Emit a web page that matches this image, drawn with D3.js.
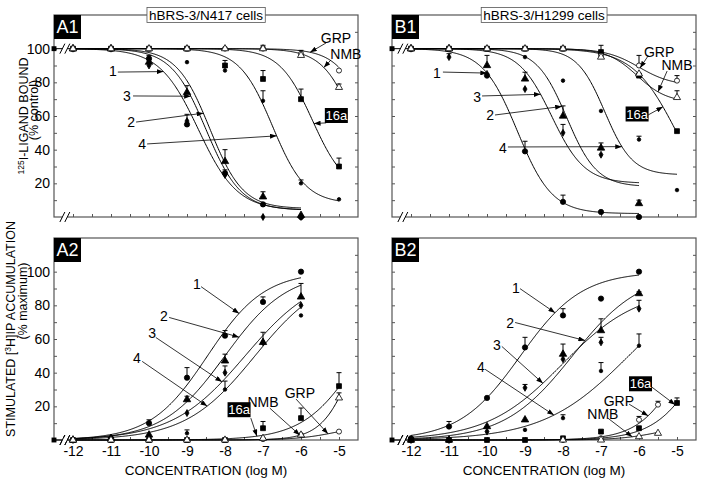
<!DOCTYPE html>
<html>
<head>
<meta charset="utf-8">
<style>
  body{
    margin: 0;
    background: #fff;
  }
  svg text{
    font-family: 'Liberation Sans Narrow', 'Arial Narrow', 'Liberation Sans', Arial, sans-serif;
  }
</style>
</head>
<body>
<svg id="svgVis"></svg>
<script src="https://cdn.jsdelivr.net/npm/d3@7"></script>
<script>

var width = 701, height = 480;

// concentrations (log M) of the measured points
var conc = [-12, -11, -10, -9, -8, -7, -6, -5.5, -5];
var xTicks = [-12, -11, -10, -9, -8, -7, -6, -5];
var yTicks = [0, 20, 40, 60, 80, 100];
var compounds = ['1', '2', '3', '4', '16a', 'GRP', 'NMB'];

// fitted curves: [left plateau, right plateau, logEC50, slope, last log conc]
var a1Fits = [
  [100, 4, -8.7, 0.85, -6],
  [100, 5, -8.4, 1.0, -6],
  [100, 4, -8.5, 0.95, -6],
  [100, 8, -6.75, 1.0, -5],
  [100, 15, -5.7, 1.0, -5],
  [100, 0, -4.1, 1.0, -5],
  [100, 0, -4.5, 1.0, -5]
];
var b1Fits = [
  [100, 2, -9.2, 0.95, -6],
  [100, 18, -7.9, 1.1, -6],
  [100, 20, -8.3, 1.0, -6],
  [100, 25, -6.9, 1.2, -5],
  [100, 0, -5.0, 0.75, -5],
  [100, 78, -6.0, 1.0, -5],
  [100, 68, -6.05, 1.1, -5]
];
var a2Fits = [
  [0, 100, -8.46, 0.58, -6],
  [0, 100, -8.0, 0.53, -6],
  [0, 100, -7.47, 0.455, -6],
  [0, 100, -7.21, 0.475, -6],
  [0, 100, -4.44, 0.6, -5],
  [0, 10, -5.0, 0.8, -5],
  [0, 100, -4.54, 1.03, -5]
];
var b2Fits = [
  [0, 100, -9.12, 0.54, -6],
  [0, 100, -7.75, 0.484, -6],
  [0, 90, -8.02, 0.437, -6],
  [0, 100, -6.27, 0.386, -6],
  [0, 100, -4.22, 0.694, -5],
  [0, 100, -4.74, 0.76, -5.5],
  [0, 10, -5.4, 0.8, -5.5]
];

// measured means (one row per compound, columns follow conc)
var a1Values = [
  [100, 100, 94, 55, 26, 7.5, 0, null, null],
  [100, 100, 92, 74, 33, 12, 1, null, null],
  [100, 100, 90, 57, 25, 0, 0, null, null],
  [100, 100, 100, 92, 87, 69, 20, null, 10.5],
  [100, 100, 100, 100, 90, 82, 70, null, 30],
  [100, 100, 100, 100, 100, 100, 97, null, 87],
  [100, 100, 100, 100, 100, 100, 96, null, 77]
];
var a1Errors = [
  [0, 0, 2, 6, 0, 0, 0, 0, 0],
  [0, 0, 3, 4, 7, 3, 0, 0, 0],
  [0, 0, 0, 0, 3, 0, 0, 0, 0],
  [0, 0, 0, 0, 2, 6, 2, 0, 0],
  [0, 0, 0, 0, 3, 5, 6, 0, 5],
  [0, 0, 0, 0, 0, 2, 2, 0, 0],
  [0, 0, 0, 0, 0, 1, 0, 0, 2]
];
var b1Values = [
  [100, 100, 84, 39, 9, 3, 0, null, null],
  [100, 100, 90, 82, 60, 41, 8, null, null],
  [100, 95, 85, 76, 50, 37, null, null, null],
  [100, 100, 100, 95, 81, 63, 46, null, 16],
  [100, 100, 100, 100, 100, 98, 84, null, 51],
  [100, 100, 100, 100, 100, 96, 90, null, 81],
  [100, 100, 100, 100, 100, 95, 85, null, 71]
];
var b1Errors = [
  [0, 0, 0, 6, 4, 0, 0, 0, 0],
  [0, 0, 6, 4, 6, 3, 2, 0, 0],
  [0, 2, 0, 0, 5, 0, 0, 0, 0],
  [0, 0, 0, 0, 0, 0, 2, 0, 0],
  [0, 0, 0, 0, 0, 4, 0, 0, 0],
  [0, 0, 0, 0, 0, 0, 6, 0, 3],
  [0, 0, 0, 0, 0, 0, 0, 0, 4]
];
var a2Values = [
  [0, 1, 10, 37, 62, 82, 100, null, null],
  [0, 1, 3, 24, 47, 58, 85, null, null],
  [0, 1, 2, 16, 40, 58, 80, null, null],
  [0, 0, 1, 4, 30, 58, 74, null, null],
  [0, 0, 0, 0, 0, 7, 13, null, 32],
  [0, 0, 0, 0, 0, 0.5, 3, null, 5],
  [0, 0, 0, 0, 0, 1, 3, null, 25]
];
var a2Errors = [
  [0, 0, 2, 6, 3, 3, 0, 0, 0],
  [0, 0, 0, 2, 4, 6, 8, 0, 0],
  [0, 0, 0, 0, 4, 0, 0, 0, 0],
  [0, 0, 0, 2, 5, 0, 0, 0, 0],
  [0, 0, 0, 0, 0, 4, 6, 0, 8],
  [0, 0, 0, 0, 0, 0, 0, 0, 0],
  [0, 0, 0, 0, 0, 0, 0, 0, 3]
];
var b2Values = [
  [1, 8, 25, 55, 74, 84, 100, null, null],
  [0, 0, 8, 12, 51, 65, 87, null, null],
  [0, 0, 5, 31, 48, 58, 78, null, null],
  [0, 0, 0, 6, 13, 41, 56, null, null],
  [0, 0, 0, 0, 1, 5, 7, null, 22],
  [null, null, null, null, 0, 1, 12, 21, null],
  [null, null, null, null, 0, 0, 2, 4, null]
];
var b2Errors = [
  [0, 3, 0, 6, 4, 0, 0, 0, 0],
  [0, 0, 0, 0, 6, 7, 1, 0, 0],
  [0, 0, 0, 2, 0, 3, 5, 0, 0],
  [0, 0, 0, 0, 2, 5, 7, 0, 0],
  [0, 0, 0, 0, 0, 0, 0, 0, 3],
  [0, 0, 0, 0, 0, 0, 2, 2, 0],
  [0, 0, 0, 0, 0, 0, 0, 0, 0]
];

// labels: [text, text logx, text value, arrow start logx, arrow start value, compound, arrow tip logx]
var a1Notes = [
  ['1', -10.95, 86.7, -10.82, 86.1, 0, -9.62],
  ['3', -10.58, 71.9, -10.42, 71.9, 2, -8.9],
  ['2', -10.47, 56.4, -10.34, 56.4, 1, -8.57],
  ['4', -10.18, 43.4, -10.05, 43.4, 3, -6.64],
  ['16a', -5.07, 60.3, -5.34, 55.9, 4, -5.66],
  ['GRP', -5.08, 106.4, -5.34, 103.4, 5, -5.76],
  ['NMB', -4.82, 96.9, -5.21, 93.3, 6, -5.4]
];
var b1Notes = [
  ['1', -11.32, 85.6, -11.16, 86.1, 0, -10.0],
  ['3', -10.26, 71.3, -10.13, 71.9, 2, -8.59],
  ['2', -9.92, 60.6, -9.79, 60.6, 1, -8.03],
  ['4', -9.58, 41, -9.45, 41.6, 3, -6.45],
  ['16a', -6.05, 61.2, -5.76, 60.6, 4, -5.37],
  ['GRP', -5.47, 98, -5.76, 95.7, 5, -5.97],
  ['NMB', -5.0, 90.3, -5.26, 86.7, 6, -5.5]
];
var a2Notes = [
  ['1', -8.74, 92.9, -8.63, 91.1, 0, -7.63],
  ['2', -9.61, 73.4, -9.47, 72.8, 1, -7.63],
  ['3', -9.92, 63.3, -9.82, 60.9, 2, -8.08],
  ['4', -10.32, 48.5, -10.18, 46.7, 3, -8.47],
  ['16a', -7.63, 18, -7.32, 13, 4, -7.16],
  ['NMB', -7.0, 22.5, -6.82, 18.9, 6, -6.03],
  ['GRP', -6.03, 27.8, -6.13, 24.3, 5, -5.29]
];
var b2Notes = [
  ['1', -9.24, 90.5, -9.13, 89.9, 0, -8.21],
  ['2', -9.39, 69.8, -9.26, 69.8, 1, -7.42],
  ['3', -9.74, 56.2, -9.61, 55.6, 2, -8.53],
  ['4', -10.16, 43.2, -10.05, 42, 3, -8.24],
  ['16a', -5.96, 33.4, -5.66, 31.4, 4, -5.05],
  ['GRP', -6.53, 23.1, -6.26, 21.3, 5, -5.76],
  ['NMB', -6.95, 15.4, -6.82, 13, 6, -6.18]
];

var symbols = [
  {type: d3.symbolCircle, size: 22, fill: '#000'},
  {type: d3.symbolTriangle, size: 24, fill: '#000'},
  {type: d3.symbolDiamond, size: 14, fill: '#000'},
  {type: d3.symbolCircle, size: 10, fill: '#000'},
  {type: d3.symbolSquare, size: 24, fill: '#000'},
  {type: d3.symbolCircle, size: 20, fill: '#fff'},
  {type: d3.symbolTriangle, size: 22, fill: '#fff'}
];

var pw = 304, ph = 202;

var panels = [
  {name: 'A1', left: 54, top: 15, fits: a1Fits, values: a1Values, errors: a1Errors, notes: a1Notes,
   ctrl: 100, title: 'hBRS-3/N417 cells', yLabels: true, xLabels: false},
  {name: 'B1', left: 392, top: 15, fits: b1Fits, values: b1Values, errors: b1Errors, notes: b1Notes,
   ctrl: 100, title: 'hBRS-3/H1299 cells', yLabels: false, xLabels: false},
  {name: 'A2', left: 54, top: 238, fits: a2Fits, values: a2Values, errors: a2Errors, notes: a2Notes,
   ctrl: 0, title: null, yLabels: true, xLabels: true},
  {name: 'B2', left: 392, top: 238, fits: b2Fits, values: b2Values, errors: b2Errors, notes: b2Notes,
   ctrl: 0, title: null, yLabels: false, xLabels: true}
];

var svg = d3.select('#svgVis')
  .attr('width', width)
  .attr('height', height);

svg.append('defs').append('marker')
  .attr('id', 'arrow')
  .attr('markerUnits', 'userSpaceOnUse')
  .attr('viewBox', '0 -3 8 6')
  .attr('refX', 8)
  .attr('refY', 0)
  .attr('markerWidth', 7)
  .attr('markerHeight', 5)
  .attr('orient', 'auto')
  .append('path')
  .attr('d', 'M0,-3L8,0L0,3Z')
  .attr('fill', '#000');

function curveY(f, x) {
  return f[0] + (f[1] - f[0]) / (1 + Math.pow(10, (f[2] - x) * f[3]));
}

var x = d3.scaleLinear().domain([-12.5, -4.5]).range([0, pw]);
var y = d3.scaleLinear().domain([0, 120]).range([ph, 0]);

function drawBreak(g, yy) {
  var b1 = x(-12.28), b2 = x(-12.15);
  g.append('rect')
    .attr('x', b1).attr('y', yy - 2)
    .attr('width', b2 - b1).attr('height', 4)
    .attr('fill', '#fff');
  [b1, b2].forEach(function(bx) {
    g.append('line')
      .attr('x1', bx - 2.5).attr('y1', yy + 5)
      .attr('x2', bx + 2.5).attr('y2', yy - 5)
      .attr('stroke', '#000').attr('stroke-width', 1);
  });
}

panels.forEach(function(p) {

  var g = svg.append('g')
    .attr('transform', 'translate(' + p.left + ',' + p.top + ')');

  g.append('rect')
    .attr('width', pw).attr('height', ph)
    .attr('fill', 'none')
    .attr('stroke', '#555')
    .attr('stroke-width', 1.2);

  // axes, ticks pointing in
  var bottom = g.append('g')
    .attr('transform', 'translate(0,' + ph + ')')
    .call(d3.axisBottom(x)
      .tickValues(d3.range(-12, -4.9, 0.5))
      .tickSize(-3)
      .tickPadding(6)
      .tickFormat(function(d) {
        return (p.xLabels && xTicks.indexOf(d) > -1) ? d : '';
      }));

  var leftAxis = g.append('g')
    .call(d3.axisLeft(y)
      .tickValues(d3.range(10, 111, 10))
      .tickSize(-3)
      .tickPadding(4)
      .tickFormat(function(d) {
        return (p.yLabels && yTicks.indexOf(d) > -1) ? d : '';
      }));

  var rightAxis = g.append('g')
    .attr('transform', 'translate(' + pw + ',0)')
    .call(d3.axisRight(y)
      .tickValues(d3.range(10, 111, 10))
      .tickSize(-3)
      .tickFormat(''));

  [bottom, leftAxis, rightAxis].forEach(function(a) {
    a.select('.domain').remove();
    a.selectAll('line').attr('stroke', '#555');
    a.selectAll('text')
      .attr('fill', '#000')
      .style('font-size', '14px');
  });

  if (p.yLabels) {
    leftAxis.append('text')
      .attr('x', -4).attr('y', y(0))
      .attr('dy', '0.32em')
      .attr('text-anchor', 'end')
      .style('font-size', '14px')
      .text('0');
  }

  drawBreak(g, ph);

  // control -> first dose, with break
  g.append('line')
    .attr('x1', x(-12.5)).attr('y1', y(p.ctrl))
    .attr('x2', x(-12)).attr('y2', y(p.ctrl))
    .attr('stroke', '#000');
  drawBreak(g, y(p.ctrl));
  g.append('path')
    .attr('transform', 'translate(' + x(-12.5) + ',' + y(p.ctrl) + ')')
    .attr('d', d3.symbol(symbols[4].type, symbols[4].size))
    .attr('fill', '#000');

  // fitted curves
  var line = d3.line()
    .x(function(d) { return x(d[0]); })
    .y(function(d) { return y(d[1]); });

  p.fits.forEach(function(f) {
    var pts = d3.range(-12, f[4] + 1e-6, 0.02).map(function(c) { return [c, curveY(f, c)]; });
    g.append('path')
      .attr('d', line(pts))
      .attr('fill', 'none')
      .attr('stroke', '#000')
      .attr('stroke-width', 1);
  });

  // error bars and points
  p.values.forEach(function(row, k) {
    row.forEach(function(v, j) {
      if (v === null) return;
      var e = p.errors[k][j];
      if (e > 0) {
        var cx = x(conc[j]);
        g.append('line')
          .attr('x1', cx).attr('x2', cx)
          .attr('y1', y(v)).attr('y2', y(v + e))
          .attr('stroke', '#000');
        g.append('line')
          .attr('x1', cx - 2.5).attr('x2', cx + 2.5)
          .attr('y1', y(v + e)).attr('y2', y(v + e))
          .attr('stroke', '#000');
      }
    });
  });

  p.values.forEach(function(row, k) {
    var s = symbols[k];
    row.forEach(function(v, j) {
      if (v === null) return;
      g.append('path')
        .attr('transform', 'translate(' + x(conc[j]) + ',' + y(v) + ')')
        .attr('d', d3.symbol(s.type, s.size))
        .attr('fill', s.fill)
        .attr('stroke', '#000')
        .attr('stroke-width', 0.8);
    });
  });

  // labels with arrows
  p.notes.forEach(function(n) {
    var tipX = n[6], tipY = curveY(p.fits[n[5]], tipX);
    g.append('line')
      .attr('x1', x(n[3])).attr('y1', y(n[4]))
      .attr('x2', x(tipX)).attr('y2', y(tipY))
      .attr('stroke', '#000')
      .attr('stroke-width', 0.8)
      .attr('marker-end', 'url(#arrow)');
    if (n[0] === '16a') {
      g.append('rect')
        .attr('x', x(n[1]) - 11.5).attr('y', y(n[2]) - 7.5)
        .attr('width', 23).attr('height', 15)
        .attr('fill', '#000');
    }
    g.append('text')
      .attr('x', x(n[1])).attr('y', y(n[2]))
      .attr('dy', '0.36em')
      .attr('text-anchor', 'middle')
      .attr('fill', n[0] === '16a' ? '#fff' : '#000')
      .style('font-size', n[0] === '16a' ? '13px' : '14px')
      .text(n[0]);
  });

  // panel tag
  g.append('rect')
    .attr('width', 27).attr('height', 24)
    .attr('fill', '#000');
  g.append('text')
    .attr('x', 13.5).attr('y', 12)
    .attr('dy', '0.36em')
    .attr('text-anchor', 'middle')
    .attr('fill', '#fff')
    .style('font-size', '18px')
    .text(p.name);

  if (p.title) {
    var tt = g.append('text')
      .attr('x', pw / 2).attr('y', 0)
      .attr('dy', '0.36em')
      .attr('text-anchor', 'middle')
      .style('font-size', '13.5px')
      .text(p.title);
    var bb = tt.node().getBBox();
    g.insert('rect', function() { return tt.node(); })
      .attr('x', bb.x - 2).attr('y', -7.5)
      .attr('width', bb.width + 4).attr('height', 15)
      .attr('fill', '#fff')
      .attr('stroke', '#555')
      .attr('stroke-width', 0.8);
  }

  if (p.xLabels) {
    g.append('text')
      .attr('x', pw / 2).attr('y', ph + 35)
      .attr('text-anchor', 'middle')
      .style('font-size', '13.5px')
      .text('CONCENTRATION (log M)');
  }
});

// y axis titles
var t1 = svg.append('text')
  .attr('transform', 'translate(28,116) rotate(-90)')
  .attr('text-anchor', 'middle')
  .style('font-size', '12.5px');
t1.append('tspan').attr('dy', -4).style('font-size', '8.5px').text('125');
t1.append('tspan').attr('dy', 4).text('I-LIGAND BOUND');

svg.append('text')
  .attr('transform', 'translate(38,110) rotate(-90)')
  .attr('text-anchor', 'middle')
  .style('font-size', '12.5px')
  .text('(% control)');

var t2 = svg.append('text')
  .attr('transform', 'translate(15,329) rotate(-90)')
  .attr('text-anchor', 'middle')
  .style('font-size', '12.5px');
t2.append('tspan').text('STIMULATED [');
t2.append('tspan').attr('dy', -4).style('font-size', '8.5px').text('3');
t2.append('tspan').attr('dy', 4).text('H]IP ACCUMULATION');

svg.append('text')
  .attr('transform', 'translate(27,301) rotate(-90)')
  .attr('text-anchor', 'middle')
  .style('font-size', '12.5px')
  .text('(% maximum)');

</script>
</body>
</html>
